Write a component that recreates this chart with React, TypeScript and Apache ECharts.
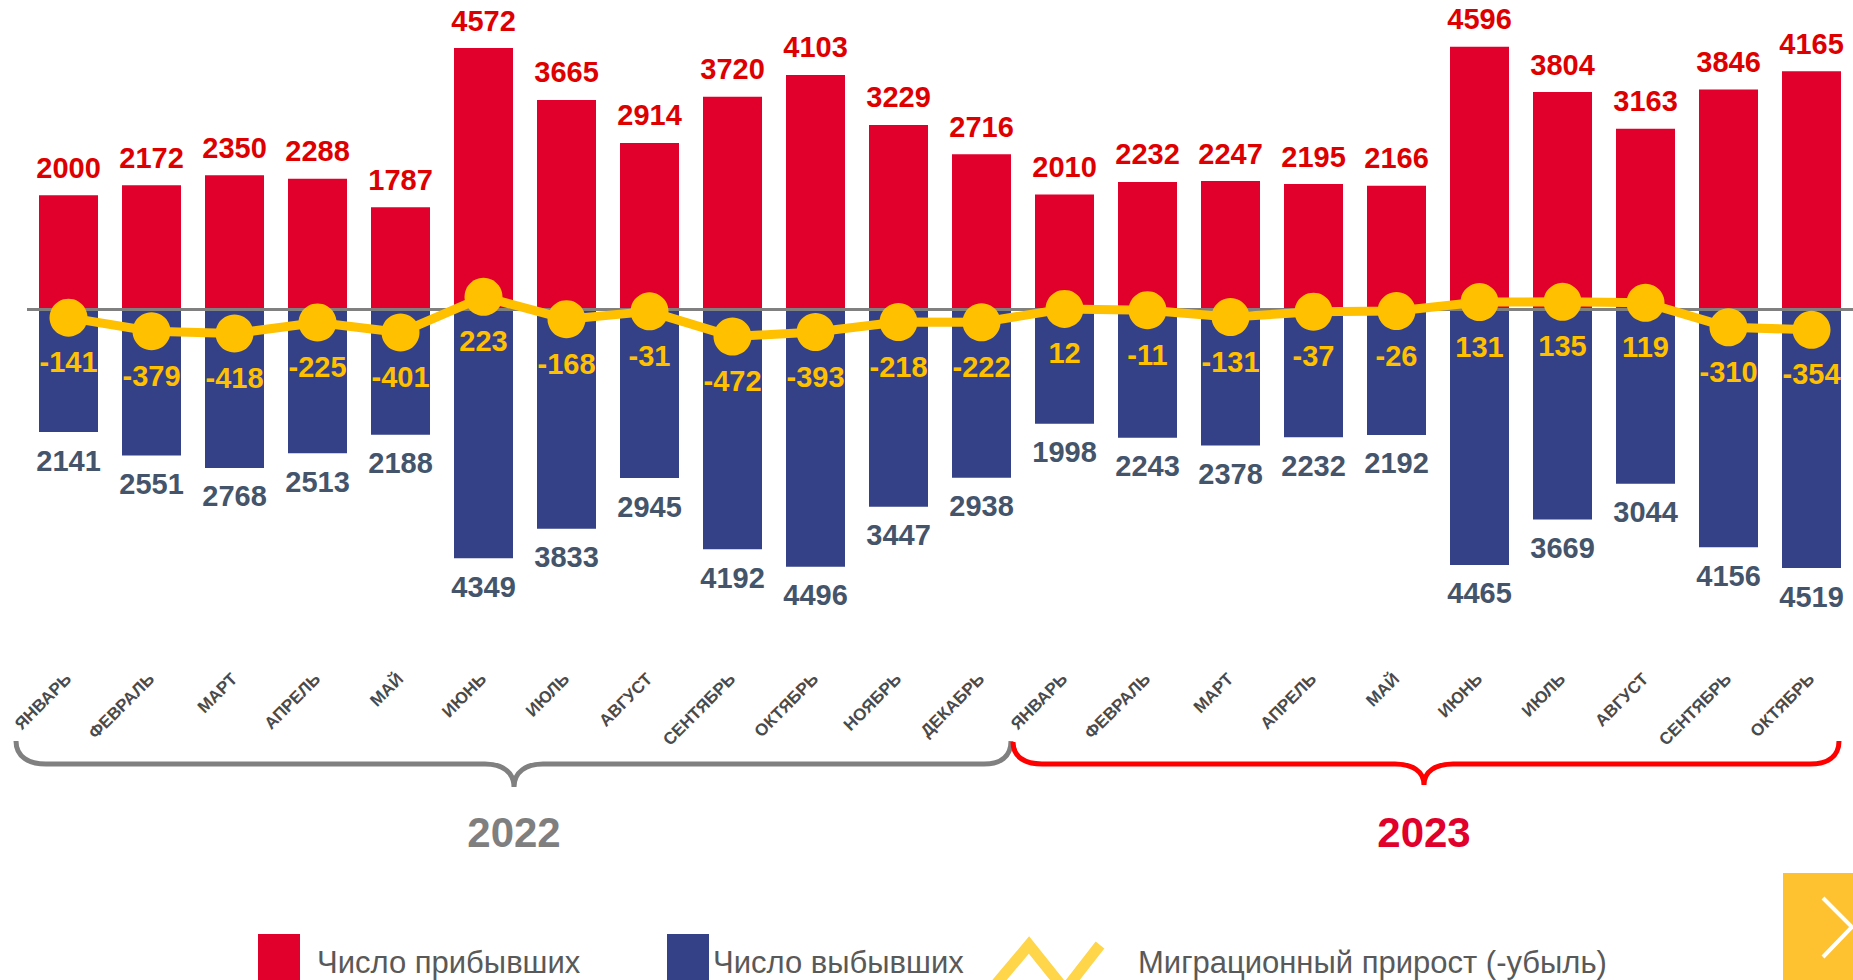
import React, { useEffect, useRef } from "react";
import * as echarts from "echarts";

const months2022 = ["ЯНВАРЬ", "ФЕВРАЛЬ", "МАРТ", "АПРЕЛЬ", "МАЙ", "ИЮНЬ", "ИЮЛЬ", "АВГУСТ", "СЕНТЯБРЬ", "ОКТЯБРЬ", "НОЯБРЬ", "ДЕКАБРЬ"];
const months2023 = ["ЯНВАРЬ", "ФЕВРАЛЬ", "МАРТ", "АПРЕЛЬ", "МАЙ", "ИЮНЬ", "ИЮЛЬ", "АВГУСТ", "СЕНТЯБРЬ", "ОКТЯБРЬ"];

const arrived2022 = [2000, 2172, 2350, 2288, 1787, 4572, 3665, 2914, 3720, 4103, 3229, 2716];
const arrived2023 = [2010, 2232, 2247, 2195, 2166, 4596, 3804, 3163, 3846, 4165];
const departed2022 = [2141, 2551, 2768, 2513, 2188, 4349, 3833, 2945, 4192, 4496, 3447, 2938];
const departed2023 = [1998, 2243, 2378, 2232, 2192, 4465, 3669, 3044, 4156, 4519];
const net2022 = [-141, -379, -418, -225, -401, 223, -168, -31, -472, -393, -218, -222];
const net2023 = [12, -11, -131, -37, -26, 131, 135, 119, -310, -354];

const years = ["2022", "2023"];
const legendNames = ["Число прибывших", "Число выбывших", "Миграционный прирост (-убыль)"];

const FONT = "'Liberation Sans', Arial, Helvetica, sans-serif";
const RED = "#E0002B";
const BLUE = "#344187";
const GOLD = "#FFC000";

const categories = [
  ...months2022.map((m) => m + "|" + years[0]),
  ...months2023.map((m) => m + "|" + years[1]),
];
const arrived = [...arrived2022, ...arrived2023];
const departed = [...departed2022, ...departed2023];
const net = [...net2022, ...net2023];

const braceGray =
  "M16 741 C16 757 29 764 46 764 L485 764 C502 764 514 772 514 787 C514 772 526 764 543 764 L984 764 C1000 764 1011 757 1011 741";
const braceRed =
  "M1013 742 C1013 757 1025 764 1042 764 L1395 764 C1412 764 1424 771 1424 785 C1424 771 1436 764 1453 764 L1810 764 C1827 764 1839 757 1839 741";

echarts.graphic.registerShape("braceGray", echarts.graphic.extendPath(braceGray, {}));
echarts.graphic.registerShape("braceRed", echarts.graphic.extendPath(braceRed, {}));

export default function App() {
  const ref = useRef<HTMLDivElement>(null);

  useEffect(() => {
    if (!ref.current) return;
    const chart = echarts.init(ref.current, undefined, { renderer: "svg" });
    const legendText = { fontSize: 31, fill: "#595959", fontFamily: FONT, verticalAlign: "middle" };
    chart.setOption({
      animation: false,
      textStyle: { fontFamily: FONT },
      grid: { left: 27, right: 0, top: 23.6, bottom: 315.8, containLabel: false },
      xAxis: {
        type: "category",
        data: categories,
        axisLine: { show: false },
        axisTick: { show: false },
        axisLabel: {
          interval: 0,
          rotate: 45,
          margin: 12,
          fontSize: 17,
          fontWeight: "bold",
          color: "#4A4A4A",
          fontFamily: FONT,
          formatter: (v: string) => v.split("|")[0],
        },
      },
      yAxis: { type: "value", min: -6200, max: 5000, show: false, splitLine: { show: false } },
      series: [
        {
          name: legendNames[0],
          type: "bar",
          stack: "total",
          data: arrived,
          barWidth: 59,
          itemStyle: { color: RED },
          label: {
            show: true,
            position: "top",
            distance: 13,
            fontSize: 29,
            fontWeight: "bold",
            color: "#DE0000",
            fontFamily: FONT,
          },
          markLine: {
            silent: true,
            symbol: ["none", "none"],
            label: { show: false },
            lineStyle: { color: "#808080", width: 3, type: "solid" },
            data: [{ yAxis: 0 }],
          },
        },
        {
          name: legendNames[1],
          type: "bar",
          stack: "total",
          data: departed.map((v) => -v),
          barWidth: 59,
          itemStyle: { color: BLUE },
          label: {
            show: true,
            position: "bottom",
            distance: 14,
            fontSize: 29,
            fontWeight: "bold",
            color: "#44546A",
            fontFamily: FONT,
            formatter: (p: any) => String(Math.abs(p.value)),
          },
        },
        {
          name: legendNames[2],
          type: "line",
          data: net,
          symbol: "circle",
          symbolSize: 38,
          z: 5,
          lineStyle: { color: GOLD, width: 9 },
          itemStyle: { color: GOLD },
          label: {
            show: true,
            position: "bottom",
            distance: 11,
            fontSize: 29,
            fontWeight: "bold",
            color: GOLD,
            fontFamily: FONT,
          },
        },
      ],
      graphic: [
        { type: "braceGray", x: 0, y: 0, style: { fill: "none", stroke: "#808080", lineWidth: 5 } },
        { type: "braceRed", x: 0, y: 0, style: { fill: "none", stroke: "#FF0000", lineWidth: 5 } },
        {
          type: "text",
          x: 514,
          y: 832,
          style: { text: years[0], fontSize: 42, fontWeight: "bold", fill: "#7F7F7F", fontFamily: FONT, align: "center", verticalAlign: "middle" },
        },
        {
          type: "text",
          x: 1424,
          y: 832,
          style: { text: years[1], fontSize: 42, fontWeight: "bold", fill: "#E0002B", fontFamily: FONT, align: "center", verticalAlign: "middle" },
        },
        { type: "rect", shape: { x: 258, y: 934, width: 42, height: 60 }, style: { fill: RED } },
        { type: "text", x: 317, y: 962, style: { ...legendText, text: legendNames[0] } },
        { type: "rect", shape: { x: 667, y: 934, width: 42, height: 60 }, style: { fill: BLUE } },
        { type: "text", x: 713, y: 962, style: { ...legendText, text: legendNames[1] } },
        {
          type: "polyline",
          shape: { points: [[986, 996], [1029, 945], [1065, 990], [1100, 945]] },
          style: { stroke: "#FFD54A", lineWidth: 11, fill: "none", lineJoin: "miter", lineCap: "butt" },
        },
        { type: "text", x: 1138, y: 962, style: { ...legendText, text: legendNames[2] } },
        { type: "rect", shape: { x: 1783, y: 873, width: 80, height: 120 }, style: { fill: "#FEC12F" } },
        {
          type: "polyline",
          shape: { points: [[1823, 898], [1852, 927], [1823, 957]] },
          style: { stroke: "#FFFFFF", lineWidth: 4, fill: "none" },
        },
      ],
    });
    return () => chart.dispose();
  }, []);

  return (
    <div
      ref={ref}
      style={{ position: "absolute", left: 0, top: 0, width: 1853, height: 980, background: "#FFFFFF" }}
    />
  );
}
